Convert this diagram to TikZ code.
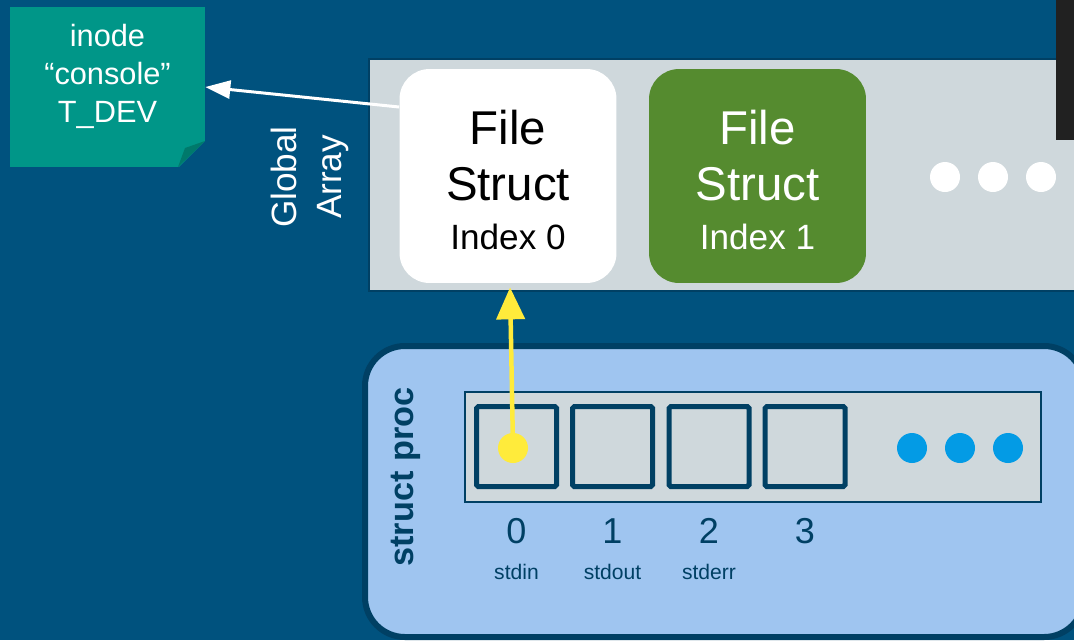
\documentclass[tikz,border=0pt]{standalone}
\usepackage{fontspec}
\setmainfont{Liberation Sans}
\usetikzlibrary{arrows.meta}
\definecolor{bgblue}{RGB}{0,82,126}
\definecolor{navy}{RGB}{0,64,100}
\definecolor{arraygray}{RGB}{207,216,220}
\definecolor{procblue}{RGB}{159,197,240}
\definecolor{noteteal}{RGB}{0,150,136}
\definecolor{notefold}{RGB}{0,121,107}
\definecolor{fsgreen}{RGB}{85,139,47}
\definecolor{ptryellow}{RGB}{255,235,59}
\definecolor{dotblue}{RGB}{3,155,229}
\definecolor{barblack}{RGB}{33,33,33}
\newcommand{\fstext}[1]{\rule{0pt}{24pt}File\\Struct\\[-4pt]\fontsize{20}{24}\selectfont Index #1}

\begin{document}
\begin{tikzpicture}[x=0.02cm,y=-0.02cm,
  note/.style={rectangle,fill=noteteal,minimum width=3.9cm,minimum height=3.2cm,inner sep=0pt,
    align=center,text=white,font=\fontsize{17.5}{21.5}\selectfont,text depth=0.54cm},
  fsbox/.style={rectangle,rounded corners=0.6cm,minimum width=4.34cm,minimum height=4.28cm,
    inner sep=0pt,align=center,font=\fontsize{27}{31.8}\selectfont},
  garray/.style={fill=arraygray,draw=navy,line width=0.03cm},
  procbox/.style={fill=procblue,draw=navy,line width=0.12cm,rounded corners=0.8cm},
  cell/.style={rectangle,draw=navy,fill=arraygray,line width=0.1cm,minimum size=1.6cm,rounded corners=1pt},
  dot/.style={circle,inner sep=0pt,minimum size=0.6cm},
  num/.style={anchor=base,text=navy,font=\fontsize{20.5}{24}\selectfont},
  stream/.style={anchor=base,text=navy,font=\fontsize{12}{14}\selectfont},
  warrow/.style={draw=white,line width=0.06cm,-{Triangle[width=0.36cm,length=0.5cm]}},
  yarrow/.style={draw=ptryellow,line width=0.09cm,-{Triangle[width=0.56cm,length=0.64cm]},shorten >=0.08cm}]

\useasboundingbox (0,0) rectangle (1074,640);
\clip (0,0) rectangle (1074,640);
\fill[bgblue] (0,0) rectangle (1074,640);

\node[note] (inode) at (107.5,87) {inode\\“console”\\T\_DEV};
\fill[bgblue] (178,168) -- (206,140) -- (206,168) -- cycle;
\fill[notefold] (178,167) -- (205,141) -- (185,148) -- cycle;

\draw[garray] (369,59) rectangle (1090,291);
\fill[barblack] (1056,-5) rectangle (1080,140);
\node[rotate=90,align=center,text=white,font=\fontsize{20}{25.5}\selectfont] (glabel) at (310,177) {Global\\Array};

\node[fsbox,fill=white] (fs0) at (508,176) {\fstext{0}};
\node[fsbox,fill=fsgreen,text=white] (fs1) at (757.5,176) {\fstext{1}};
\foreach \x [count=\i] in {945,993,1041}
  \node[dot,fill=white] (wd\i) at (\x,177) {};

\draw[procbox] (365,346) rectangle (1084,637);
\node[rotate=90,text=navy,font=\fontsize{19.5}{24}\selectfont\bfseries] (plabel) at (406,477) {struct proc};
\draw[garray] (465,392) rectangle (1041,502);
\foreach \i/\x in {0/516.5,1/612.5,2/709,3/805}{
  \node[cell] (c\i) at (\x,446.5) {};
  \node[num] (n\i) at (\x,543) {\i};
}
\foreach \s/\x in {stdin/516.5,stdout/612.5,stderr/709}
  \node[stream] (\s) at (\x,579) {\s};
\foreach \x [count=\i] in {912,960,1008}
  \node[dot,fill=dotblue] (bd\i) at (\x,448) {};

\node[dot,fill=ptryellow] (ydot) at (513,448) {};
\draw[yarrow] (ydot.center) -- (fs0);
\draw[warrow] ([yshift=1.38cm]fs0.west) -- (inode.east);
\end{tikzpicture}
\end{document}
